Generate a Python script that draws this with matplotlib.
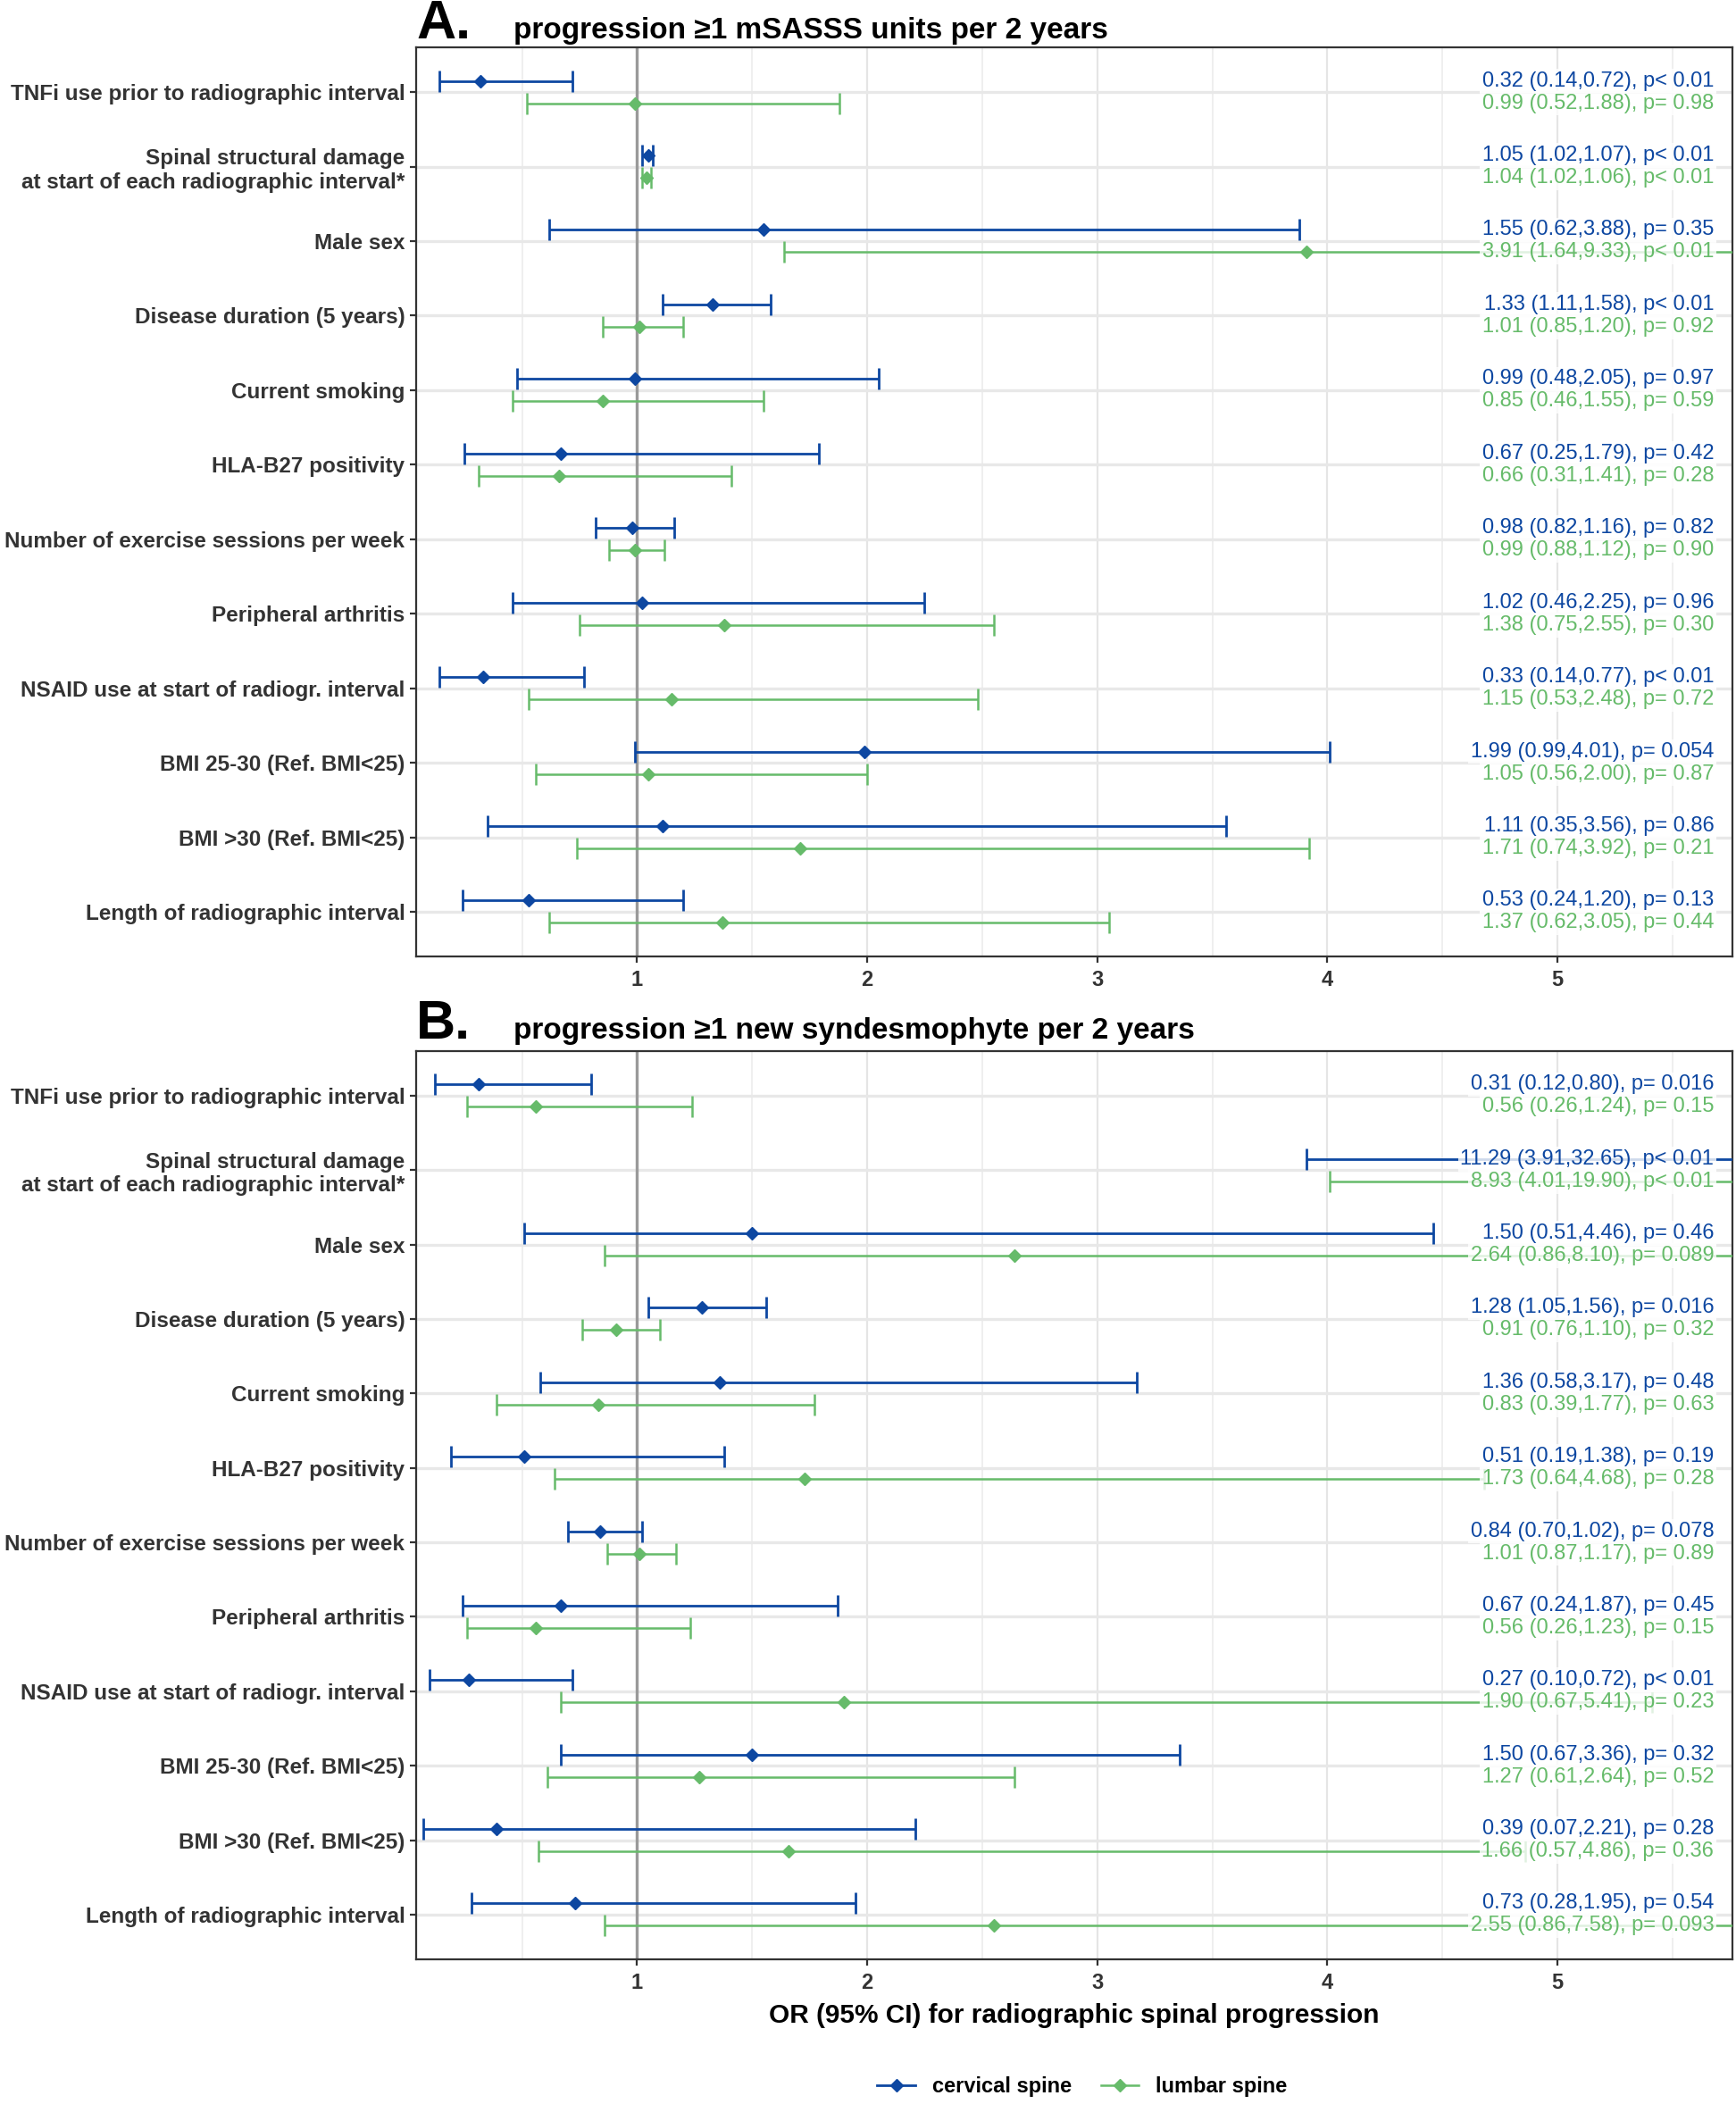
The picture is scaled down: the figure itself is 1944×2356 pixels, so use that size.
import matplotlib.pyplot as plt
import matplotlib.transforms as mtransforms
from matplotlib.lines import Line2D
import numpy as np

plt.rcParams['font.family'] = ['Liberation Sans', 'DejaVu Sans']

# categories, top to bottom
labels = ['TNFi use prior to radiographic interval',
          'Spinal structural damage\nat start of each radiographic interval*',
          'Male sex',
          'Disease duration (5 years)',
          'Current smoking',
          'HLA-B27 positivity',
          'Number of exercise sessions per week',
          'Peripheral arthritis',
          'NSAID use at start of radiogr. interval',
          'BMI 25-30 (Ref. BMI<25)',
          'BMI >30 (Ref. BMI<25)',
          'Length of radiographic interval']

# panel A: progression >=1 mSASSS unit
a_cerv_or = [0.32, 1.05, 1.55, 1.33, 0.99, 0.67, 0.98, 1.02, 0.33, 1.99, 1.11, 0.53]
a_cerv_lo = [0.14, 1.02, 0.62, 1.11, 0.48, 0.25, 0.82, 0.46, 0.14, 0.99, 0.35, 0.24]
a_cerv_hi = [0.72, 1.07, 3.88, 1.58, 2.05, 1.79, 1.16, 2.25, 0.77, 4.01, 3.56, 1.20]
a_cerv_p = ['p< 0.01', 'p< 0.01', 'p= 0.35', 'p< 0.01', 'p= 0.97', 'p= 0.42',
            'p= 0.82', 'p= 0.96', 'p< 0.01', 'p= 0.054', 'p= 0.86', 'p= 0.13']
a_lumb_or = [0.99, 1.04, 3.91, 1.01, 0.85, 0.66, 0.99, 1.38, 1.15, 1.05, 1.71, 1.37]
a_lumb_lo = [0.52, 1.02, 1.64, 0.85, 0.46, 0.31, 0.88, 0.75, 0.53, 0.56, 0.74, 0.62]
a_lumb_hi = [1.88, 1.06, 9.33, 1.20, 1.55, 1.41, 1.12, 2.55, 2.48, 2.00, 3.92, 3.05]
a_lumb_p = ['p= 0.98', 'p< 0.01', 'p< 0.01', 'p= 0.92', 'p= 0.59', 'p= 0.28',
            'p= 0.90', 'p= 0.30', 'p= 0.72', 'p= 0.87', 'p= 0.21', 'p= 0.44']

# panel B: progression >=1 new syndesmophyte
b_cerv_or = [0.31, 11.29, 1.50, 1.28, 1.36, 0.51, 0.84, 0.67, 0.27, 1.50, 0.39, 0.73]
b_cerv_lo = [0.12, 3.91, 0.51, 1.05, 0.58, 0.19, 0.70, 0.24, 0.10, 0.67, 0.07, 0.28]
b_cerv_hi = [0.80, 32.65, 4.46, 1.56, 3.17, 1.38, 1.02, 1.87, 0.72, 3.36, 2.21, 1.95]
b_cerv_p = ['p= 0.016', 'p< 0.01', 'p= 0.46', 'p= 0.016', 'p= 0.48', 'p= 0.19',
            'p= 0.078', 'p= 0.45', 'p< 0.01', 'p= 0.32', 'p= 0.28', 'p= 0.54']
b_lumb_or = [0.56, 8.93, 2.64, 0.91, 0.83, 1.73, 1.01, 0.56, 1.90, 1.27, 1.66, 2.55]
b_lumb_lo = [0.26, 4.01, 0.86, 0.76, 0.39, 0.64, 0.87, 0.26, 0.67, 0.61, 0.57, 0.86]
b_lumb_hi = [1.24, 19.90, 8.10, 1.10, 1.77, 4.68, 1.17, 1.23, 5.41, 2.64, 4.86, 7.58]
b_lumb_p = ['p= 0.15', 'p< 0.01', 'p= 0.089', 'p= 0.32', 'p= 0.63', 'p= 0.28',
            'p= 0.89', 'p= 0.15', 'p= 0.23', 'p= 0.52', 'p= 0.36', 'p= 0.093']

blue = '#0D47A1'
green = '#66BB6A'

fig = plt.figure(figsize=(19.44, 23.56), dpi=100)
axA = fig.add_axes([0.2397, 0.5454, 0.7582, 0.4321])
axB = fig.add_axes([0.2397, 0.0688, 0.7582, 0.4317])

ypos = np.arange(len(labels))[::-1] + 1.0


def draw_series(ax, est, lo, hi, pvals, color, off, lw):
    est = np.array(est)
    lo = np.array(lo)
    hi = np.array(hi)
    y = ypos + off
    ax.errorbar(est, y, xerr=[est - lo, hi - est], fmt='none', ecolor=color,
                elinewidth=lw, capsize=8.5, capthick=lw, zorder=4)
    ax.plot(est, y, 'D', color=color, ms=7, zorder=5)
    tr = mtransforms.blended_transform_factory(ax.transAxes, ax.transData)
    for e, l, h, p, yy in zip(est, lo, hi, pvals, y):
        txt = f'{e:.2f} ({l:.2f},{h:.2f}), {p}'
        ax.text(0.986, yy, txt, transform=tr, ha='right', va='center',
                fontsize=17, color=color, zorder=6,
                bbox=dict(boxstyle='square,pad=0.12', fc='white', ec='none', alpha=0.8))


def panel(ax, cerv, lumb, letter, title, ytitle):
    ax.set_xlim(0.04, 5.76)
    ax.set_ylim(0.4, len(labels) + 0.6)
    for x in np.arange(0.5, 6.0, 1.0):
        ax.axvline(x, color='#EBEBEB', lw=1.1, zorder=0)
    for x in range(1, 6):
        ax.axvline(x, color='#E5E5E5', lw=1.6, zorder=0)
    for y in ypos:
        ax.axhline(y, color='#E8E8E8', lw=2.4, zorder=0)
    ax.axvline(1, color='#9A9A9A', lw=2.4, zorder=1)
    draw_series(ax, *cerv, blue, 0.15, 2.0)
    draw_series(ax, *lumb, green, -0.15, 1.8)
    ax.set_yticks(ypos)
    ax.set_yticklabels(labels, fontsize=17.5, fontweight='bold', color='#333333',
                       linespacing=1.2)
    ax.set_xticks([1, 2, 3, 4, 5])
    ax.set_xticklabels(['1', '2', '3', '4', '5'], fontsize=17, fontweight='bold',
                       color='#333333')
    ax.tick_params(axis='both', length=5, width=1.6, color='#333333', pad=4)
    ax.tick_params(axis='x', pad=6)
    for s in ax.spines.values():
        s.set_color('#333333')
        s.set_linewidth(1.6)
    fig.text(466 / 1944, 1 - ytitle / 2356, letter, fontsize=44, fontweight='bold',
             ha='left', va='baseline')
    fig.text(575 / 1944, 1 - ytitle / 2356, title, fontsize=24, fontweight='bold',
             ha='left', va='baseline')


panel(axA, (a_cerv_or, a_cerv_lo, a_cerv_hi, a_cerv_p),
      (a_lumb_or, a_lumb_lo, a_lumb_hi, a_lumb_p),
      'A.', 'progression \u22651 mSASSS units per 2 years', 43)
panel(axB, (b_cerv_or, b_cerv_lo, b_cerv_hi, b_cerv_p),
      (b_lumb_or, b_lumb_lo, b_lumb_hi, b_lumb_p),
      'B.', 'progression \u22651 new syndesmophyte per 2 years', 1163)

axB.set_xlabel('OR (95% CI) for radiographic spinal progression', fontsize=21.5,
               fontweight='bold', labelpad=8)

handles = [Line2D([], [], color=blue, lw=2.0, marker='D', ms=7),
           Line2D([], [], color=green, lw=1.8, marker='D', ms=7)]
fig.legend(handles, ['cervical spine', 'lumbar spine'], loc='center',
           bbox_to_anchor=(1212 / 1944, 1 - 2337 / 2356), ncol=2, frameon=False,
           prop={'size': 17, 'weight': 'bold'}, handlelength=1.8, columnspacing=1.4)

fig.savefig('out.png', dpi=100)
